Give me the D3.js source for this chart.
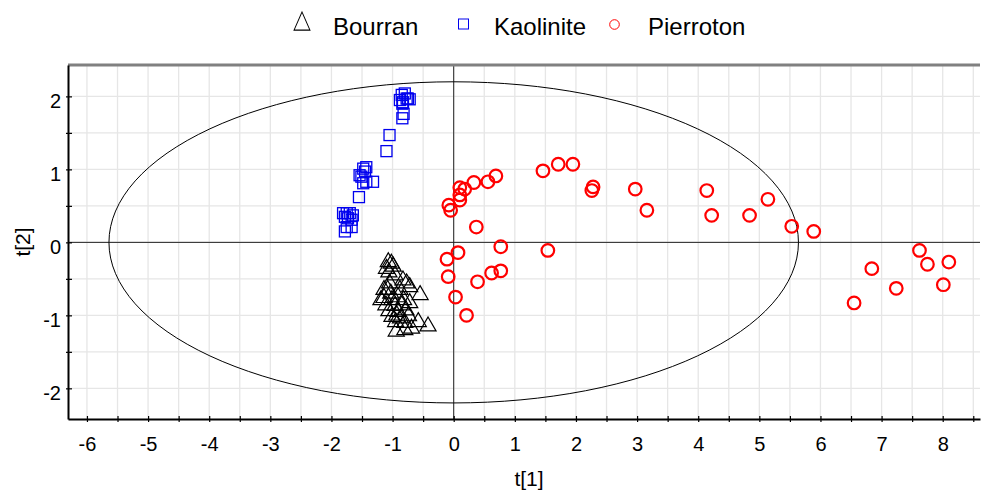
<html>
<head>
<meta charset="utf-8">
<title>Score plot t[1] / t[2]</title>
<script src="https://cdn.jsdelivr.net/npm/d3@7"></script>
<style>
    body { margin: 0; background: #fff; }
    svg text { font-family: "Liberation Sans", Arial, sans-serif; fill: #000; }
</style>
</head>
<body>
<script>
    var w = 981;
    var h = 491;

    // scores
    var bourranX = [-1.07, -1.02, -0.99, -1.10, -1.06, -0.96, -0.83, -0.77, -0.72, -0.55,
        -1.05, -1.08, -1.14, -1.01, -0.91, -0.82, -1.11, -0.96, -0.85, -0.72,
        -1.06, -0.91, -0.78, -1.01, -0.87, -0.74, -0.95, -0.80, -0.58, -0.42,
        -0.94, -0.80, -0.69, -1.14, -0.88, -1.19, -1.03, -0.93];
    var bourranY = [-0.27, -0.29, -0.33, -0.36, -0.41, -0.45, -0.52, -0.56, -0.61, -0.72,
        -0.56, -0.65, -0.76, -0.79, -0.75, -0.79, -0.86, -0.87, -0.86, -0.83,
        -0.94, -0.95, -0.93, -1.02, -1.04, -1.01, -1.09, -1.10, -1.09, -1.15,
        -1.22, -1.20, -1.18, -0.65, -0.65, -0.79, -0.70, -1.00];

    var kaoliniteX = [-0.85, -0.80, -0.77, -0.83, -0.75, -0.88, -0.84, -0.72, -0.82, -0.84,
        -1.05, -1.10,
        -1.48, -1.43, -1.45, -1.54, -1.51, -1.43, -1.32, -1.48, -1.55,
        -1.81, -1.75, -1.70, -1.65, -1.78, -1.73, -1.67, -1.75, -1.78, -1.67];
    var kaoliniteY = [2.02, 2.04, 1.97, 1.92, 1.97, 1.95, 1.90, 1.96, 1.76, 1.70,
        1.47, 1.25,
        1.01, 1.03, 0.97, 0.92, 0.90, 0.83, 0.83, 0.81, 0.62,
        0.40, 0.40, 0.40, 0.37, 0.35, 0.33, 0.31, 0.21, 0.15, 0.21];

    var pierrotonX = [1.46, 1.71, 1.95, 2.28, 2.26, 0.69, 0.56, 0.33, 0.18, 0.10,
        0.10, 0.10, -0.08, -0.05, 0.37, 0.77, 0.07, -0.11, 1.54, -0.09,
        0.62, 0.77, 0.39, 0.03, 0.21, 2.97, 3.16, 4.14, 4.22, 4.84,
        5.14, 5.53, 5.89, 7.62, 7.75, 8.10, 6.84, 7.24, 8.01, 6.55];
    var pierrotonY = [0.98, 1.07, 1.07, 0.76, 0.71, 0.91, 0.83, 0.82, 0.73, 0.75,
        0.65, 0.58, 0.51, 0.44, 0.21, -0.06, -0.14, -0.23, -0.11, -0.47,
        -0.42, -0.39, -0.54, -0.75, -1.00, 0.73, 0.44, 0.71, 0.37, 0.37,
        0.59, 0.22, 0.15, -0.11, -0.30, -0.27, -0.36, -0.63, -0.58, -0.83];

    // Hotelling T2 ellipse half axes
    var ellipseT1 = 5.64;
    var ellipseT2 = 2.2;

    var xTicks = d3.range(-6, 8.51, 0.5);
    var yTicks = d3.range(-2, 2.01, 0.5);
    var groups = ["Bourran", "Kaolinite", "Pierroton"];

    var svg = d3.select("body")
        .append("svg")
        .attr("width", w)
        .attr("height", h);

    var plotL = 68, plotR = 980, plotT = 65, plotB = 419;

    var x = d3.scaleLinear().domain([-6.31, 8.61]).range([plotL, plotR]);
    var y = d3.scaleLinear().domain([-2.42, 2.43]).range([plotB, plotT]);

    // grid
    svg.append("g")
        .selectAll("line")
        .data(xTicks)
        .enter()
        .append("line")
        .attr("x1", function(d) { return x(d); })
        .attr("x2", function(d) { return x(d); })
        .attr("y1", plotT)
        .attr("y2", plotB)
        .attr("stroke", "#e6e6e6")
        .attr("stroke-width", 1.3);

    svg.append("g")
        .selectAll("line")
        .data(yTicks)
        .enter()
        .append("line")
        .attr("x1", plotL)
        .attr("x2", plotR)
        .attr("y1", function(d) { return y(d); })
        .attr("y2", function(d) { return y(d); })
        .attr("stroke", "#e6e6e6")
        .attr("stroke-width", 1.3);

    // zero lines
    svg.append("line")
        .attr("x1", x(0)).attr("x2", x(0))
        .attr("y1", plotT).attr("y2", plotB)
        .attr("stroke", "#222").attr("stroke-width", 1);
    svg.append("line")
        .attr("x1", plotL).attr("x2", plotR)
        .attr("y1", y(0)).attr("y2", y(0))
        .attr("stroke", "#222").attr("stroke-width", 1);

    // ellipse
    svg.append("ellipse")
        .attr("cx", x(0))
        .attr("cy", y(0))
        .attr("rx", x(ellipseT1) - x(0))
        .attr("ry", y(0) - y(ellipseT2))
        .attr("fill", "none")
        .attr("stroke", "#000")
        .attr("stroke-width", 1);

    // top frame line
    svg.append("line")
        .attr("x1", plotL).attr("x2", plotR)
        .attr("y1", plotT).attr("y2", plotT)
        .attr("stroke", "#808080").attr("stroke-width", 3);

    // axes
    var fmt = function(d) { return d % 1 === 0 ? String(d) : ""; };

    var xAxis = svg.append("g")
        .attr("transform", "translate(0," + plotB + ")")
        .call(d3.axisBottom(x).tickValues(xTicks).tickFormat(fmt).tickSize(3).tickPadding(15).tickSizeOuter(0));
    xAxis.attr("font-size", 20).attr("font-family", null);
    xAxis.select(".domain").attr("stroke", "#000").attr("stroke-width", 2);
    xAxis.selectAll(".tick line").attr("y1", -3).attr("stroke-width", 1.2);

    var yAxis = svg.append("g")
        .attr("transform", "translate(" + plotL + ",0)")
        .call(d3.axisLeft(y).tickValues(yTicks).tickFormat(fmt).tickSize(2).tickPadding(5).tickSizeOuter(0));
    yAxis.attr("font-size", 20).attr("font-family", null);
    yAxis.select(".domain").attr("stroke", "#000").attr("stroke-width", 2);
    yAxis.selectAll(".tick line").attr("x1", 4).attr("stroke-width", 1.2);
    yAxis.selectAll(".tick text").attr("dy", "0.55em");

    // axis titles
    svg.append("text")
        .attr("x", 529)
        .attr("y", 486)
        .attr("text-anchor", "middle")
        .attr("font-size", "21px")
        .text("t[1]");

    svg.append("text")
        .attr("transform", "translate(30,242) rotate(-90)")
        .attr("text-anchor", "middle")
        .attr("font-size", "21px")
        .text("t[2]");

    // markers
    var tri = d3.symbol().type(d3.symbolTriangle).size(112);
    var plot = svg.append("g");

    plot.selectAll("path.bourran")
        .data(bourranX)
        .enter()
        .append("path")
        .attr("class", "bourran")
        .attr("d", tri)
        .attr("transform", function(d, i) {
            return "translate(" + x(d) + "," + y(bourranY[i]) + ")";
        })
        .attr("fill", "none")
        .attr("stroke", "#000")
        .attr("stroke-width", 1.2);

    plot.selectAll("rect.kaolinite")
        .data(kaoliniteX)
        .enter()
        .append("rect")
        .attr("class", "kaolinite")
        .attr("x", function(d) { return x(d) - 5.5; })
        .attr("y", function(d, i) { return y(kaoliniteY[i]) - 5.5; })
        .attr("width", 11)
        .attr("height", 11)
        .attr("fill", "none")
        .attr("stroke", "#0000ee")
        .attr("stroke-width", 1.3);

    plot.selectAll("circle.pierroton")
        .data(pierrotonX)
        .enter()
        .append("circle")
        .attr("class", "pierroton")
        .attr("cx", function(d) { return x(d); })
        .attr("cy", function(d, i) { return y(pierrotonY[i]); })
        .attr("r", 6.3)
        .attr("fill", "none")
        .attr("stroke", "#ff0000")
        .attr("stroke-width", 2.2);

    // legend
    var legX = [302, 463.5, 614.5];
    var legText = [333, 494, 648];
    var leg = svg.append("g");

    leg.append("path")
        .attr("d", d3.symbol().type(d3.symbolTriangle).size(120))
        .attr("transform", "translate(" + legX[0] + ",24) scale(0.95,1.25)")
        .attr("fill", "none")
        .attr("stroke", "#000")
        .attr("stroke-width", 1);
    leg.append("rect")
        .attr("x", legX[1] - 5).attr("y", 19)
        .attr("width", 10).attr("height", 10)
        .attr("fill", "none")
        .attr("stroke", "#0000ee")
        .attr("stroke-width", 1);
    leg.append("circle")
        .attr("cx", legX[2]).attr("cy", 24.5)
        .attr("r", 4.8)
        .attr("fill", "none")
        .attr("stroke", "#ff0000")
        .attr("stroke-width", 1);

    leg.selectAll("text")
        .data(groups)
        .enter()
        .append("text")
        .attr("x", function(d, i) { return legText[i]; })
        .attr("y", 35)
        .attr("font-size", "24px")
        .text(function(d) { return d; });
</script>
</body>
</html>
